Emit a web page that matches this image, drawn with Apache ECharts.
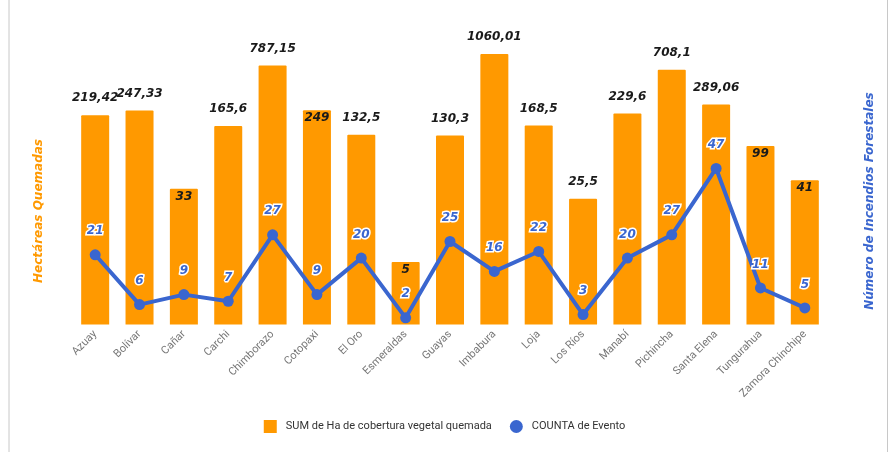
<!DOCTYPE html>
<html><head><meta charset="utf-8">
<script src="https://cdn.jsdelivr.net/npm/echarts@6/dist/echarts.min.js"></script>
<style>html,body{margin:0;padding:0;background:#fff}#c{width:889px;height:452px}</style>
</head><body><div id="c"></div>
<script>
const categories = ['Azuay','Bolívar','Cañar','Carchi','Chimborazo','Cotopaxi','El Oro','Esmeraldas','Guayas','Imbabura','Loja','Los Ríos','Manabí','Pichincha','Santa Elena','Tungurahua','Zamora Chinchipe'];
const hectares = [219.42, 247.33, 33, 165.6, 787.15, 249, 132.5, 5, 130.3, 1060.01, 168.5, 25.5, 229.6, 708.1, 289.06, 99, 41];
const counts = [21, 6, 9, 7, 27, 9, 20, 2, 25, 16, 22, 3, 20, 27, 47, 11, 5];
const insideLabels = ['Cañar','Cotopaxi','Esmeraldas','Tungurahua','Zamora Chinchipe'];
const leftTitle = 'Hectáreas Quemadas';
const rightTitle = 'Número de Incendios Forestales';

const fmt = v => String(v).replace('.', ',');
const valFont = 'DejaVu Sans';
const barData = hectares.map((v, i) => {
  const inside = insideLabels.includes(categories[i]);
  return {
    value: v,
    label: inside ? {position: 'insideTop', distance: 2} : {position: 'top', distance: 11}
  };
});

const titleStyle = (color) => ({fill: color, font: 'italic bold 12px "DejaVu Sans"', align: 'center', verticalAlign: 'middle'});

const chart = echarts.init(document.getElementById('c'), null, {renderer: 'canvas'});
chart.setOption({
  animation: false,
  grid: {left: 73, right: 62, top: 25, bottom: 127.5},
  xAxis: {
    type: 'category', data: categories,
    axisLine: {show: false}, axisTick: {show: false},
    axisLabel: {rotate: 45, color: '#767676', fontFamily: 'Roboto', fontSize: 11, interval: 0, margin: 8}
  },
  yAxis: [{
    type: 'log', logBase: 10, min: 1, max: Math.pow(10, 299.5 / 89.4),
    axisLine: {show: false}, axisTick: {show: false}, axisLabel: {show: false}, splitLine: {show: false}
  }, {
    type: 'value', min: 0, max: 299.5 / 3.32, position: 'right',
    axisLine: {show: false}, axisTick: {show: false}, axisLabel: {show: false}, splitLine: {show: false}
  }],
  legend: {
    top: 415, left: 'center', itemGap: 18, itemWidth: 13, itemHeight: 13,
    textStyle: {color: '#333', fontFamily: 'Roboto', fontSize: 11, padding: [0, 0, 0, 4]},
    data: [{name: 'SUM de Ha de cobertura vegetal quemada', icon: 'rect'}, {name: 'COUNTA de Evento', icon: 'circle'}]
  },
  graphic: [
    {type: 'line', shape: {x1: 9, y1: 0, x2: 9, y2: 452}, style: {stroke: '#c8c8c8', lineWidth: 1}},
    {type: 'line', shape: {x1: 887.5, y1: 0, x2: 887.5, y2: 452}, style: {stroke: '#c8c8c8', lineWidth: 1}},
    {type: 'text', x: 39, y: 211, rotation: Math.PI / 2, style: Object.assign({text: leftTitle}, titleStyle('#FF9900'))},
    {type: 'text', x: 870, y: 201, rotation: Math.PI / 2, style: Object.assign({text: rightTitle}, titleStyle('#3A66CF'))}
  ],
  series: [{
    name: 'SUM de Ha de cobertura vegetal quemada', type: 'bar', yAxisIndex: 0,
    data: barData, barWidth: 28,
    itemStyle: {color: '#FF9900', borderRadius: [1, 1, 0, 0]},
    label: {show: true, color: '#1a1a1a', fontFamily: valFont, fontWeight: 'bold', fontStyle: 'italic', fontSize: 12,
      formatter: p => fmt(p.value)}
  }, {
    name: 'COUNTA de Evento', type: 'line', yAxisIndex: 1, data: counts,
    symbol: 'circle', symbolSize: 11,
    lineStyle: {color: '#3A66CF', width: 4}, itemStyle: {color: '#3A66CF'},
    label: {show: true, position: 'top', distance: 12, color: '#3A66CF', fontFamily: valFont, fontWeight: 'bold', fontStyle: 'italic', fontSize: 12,
      textBorderColor: '#fff', textBorderWidth: 3}
  }]
});
</script></body></html>
